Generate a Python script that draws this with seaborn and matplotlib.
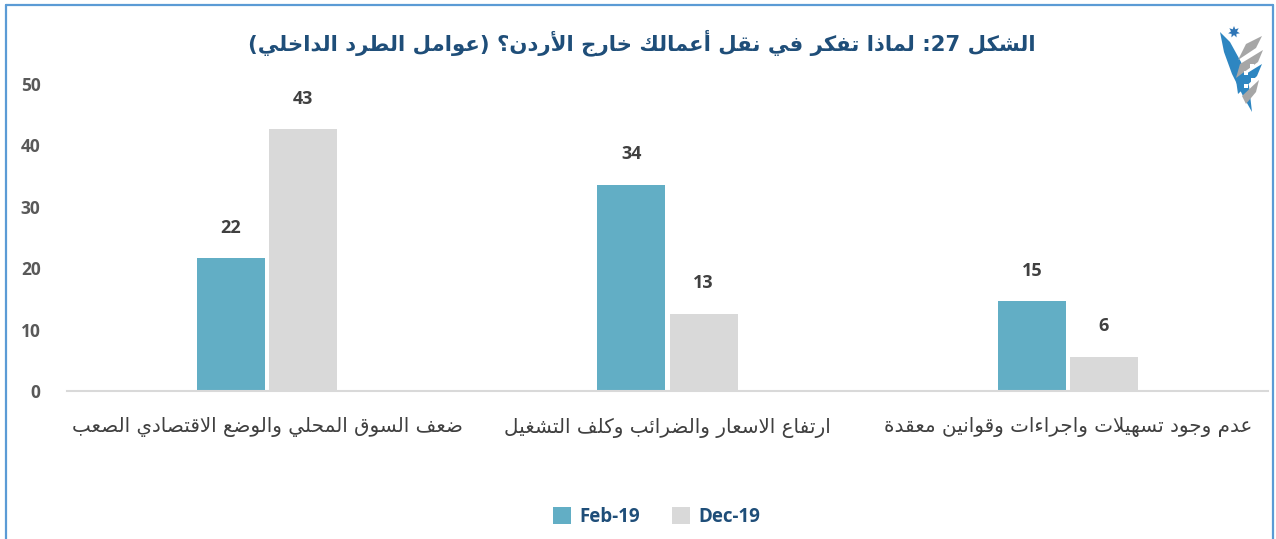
import re
import numpy as np
import pandas as pd
import matplotlib
matplotlib.use("Agg")
import matplotlib.pyplot as plt
import seaborn as sns
from matplotlib.lines import Line2D
from matplotlib.patches import Polygon

# ---------------------------------------------------------------- data
categories = [
    "ضعف السوق المحلي والوضع الاقتصادي الصعب",
    "ارتفاع الاسعار والضرائب وكلف التشغيل",
    "عدم وجود تسهيلات واجراءات وقوانين معقدة",
]
periods = ["Feb-19", "Dec-19"]
feb_values = [21.6, 33.6, 14.6]
dec_values = [42.6, 12.6, 5.6]
y_ticks = [0, 10, 20, 30, 40, 50]
title_text = "الشكل 27: لماذا تفكر في نقل أعمالك خارج الأردن؟ (عوامل الطرد الداخلي)"

FEB_COLOR = "#62AEC5"
DEC_COLOR = "#D9D9D9"
NAVY = "#1F4E79"

# ---------------------------------------------------- Arabic text shaping
# matplotlib has no complex-text layout, so letters are mapped to their
# contextual presentation forms and the line is laid out right-to-left.
DUAL = {'ئ': 0xFE89, 'ب': 0xFE8F, 'ت': 0xFE95, 'ث': 0xFE99, 'ج': 0xFE9D,
        'ح': 0xFEA1, 'خ': 0xFEA5, 'س': 0xFEB1, 'ش': 0xFEB5, 'ص': 0xFEB9,
        'ض': 0xFEBD, 'ط': 0xFEC1, 'ظ': 0xFEC5, 'ع': 0xFEC9, 'غ': 0xFECD,
        'ف': 0xFED1, 'ق': 0xFED5, 'ك': 0xFED9, 'ل': 0xFEDD, 'م': 0xFEE1,
        'ن': 0xFEE5, 'ه': 0xFEE9, 'ي': 0xFEF1}
RIGHT = {'آ': 0xFE81, 'أ': 0xFE83, 'ؤ': 0xFE85, 'إ': 0xFE87, 'ا': 0xFE8D,
         'ة': 0xFE93, 'د': 0xFEA9, 'ذ': 0xFEAB, 'ر': 0xFEAD, 'ز': 0xFEAF,
         'و': 0xFEED, 'ى': 0xFEEF}
LAM_ALEF = {'آ': 0xFEF5, 'أ': 0xFEF7, 'إ': 0xFEF9, 'ا': 0xFEFB}
MIRROR = {'(': ')', ')': '('}


def shape(text):
    units = []
    i = 0
    while i < len(text):
        c = text[i]
        if c == 'ل' and i + 1 < len(text) and text[i + 1] in LAM_ALEF:
            units.append(('LA', text[i + 1], 'R'))
            i += 2
            continue
        if c in DUAL:
            units.append(('C', c, 'D'))
        elif c in RIGHT:
            units.append(('C', c, 'R'))
        else:
            units.append(('C', c, 'U'))
        i += 1
    out = []
    for k, (kind, ch, jt) in enumerate(units):
        prev_j = k > 0 and units[k - 1][2] == 'D' and jt != 'U'
        next_j = (jt == 'D' and k + 1 < len(units)
                  and units[k + 1][2] in ('D', 'R'))
        if kind == 'LA':
            out.append(chr(LAM_ALEF[ch] + (1 if prev_j else 0)))
        elif jt == 'D':
            base = DUAL[ch]
            if prev_j and next_j:
                out.append(chr(base + 3))
            elif next_j:
                out.append(chr(base + 2))
            elif prev_j:
                out.append(chr(base + 1))
            else:
                out.append(chr(base))
        elif jt == 'R':
            out.append(chr(RIGHT[ch] + (1 if prev_j else 0)))
        else:
            out.append(ch)
    return ''.join(out)


def rtl(text):
    runs = re.findall(r'[0-9]+|[^0-9]+', shape(text))
    pieces = []
    for run in reversed(runs):
        if run.isdigit():
            pieces.append(run)
        else:
            pieces.append(''.join(MIRROR.get(c, c) for c in reversed(run)))
    return ''.join(pieces)


# ---------------------------------------------------------------- figure
sns.set_style("white")
plt.rcParams["font.family"] = ["Open Sans", "DejaVu Sans"]

W, H = 1276, 539
fig = plt.figure(figsize=(W / 100, H / 100), dpi=100)
fig.patch.set_facecolor("white")


def fx(px):
    return px / W


def fy(py):
    return 1 - py / H


ax = fig.add_axes([fx(67), fy(391), fx(1268) - fx(67), fy(84) - fy(391)])

df = pd.DataFrame({
    "category": categories * len(periods),
    "period": [p for p in periods for _ in categories],
    "value": feb_values + dec_values,
})

sns.barplot(data=df, x="category", y="value", hue="period",
            order=categories, hue_order=periods,
            palette=[FEB_COLOR, DEC_COLOR], saturation=1,
            width=0.36, gap=0.056, errorbar=None, linewidth=0, ax=ax)

ax.set_xlim(-0.5, 2.5)
ax.set_ylim(0, 50)
ax.set_yticks(y_ticks)
ax.set_yticklabels([str(t) for t in y_ticks], fontsize=12.5, fontweight="bold",
                   color="#595959")
ax.set_xticks(range(len(categories)))
ax.set_xticklabels([rtl(c) for c in categories], family="DejaVu Sans",
                   fontsize=14.3, color="#404040")
ax.tick_params(axis="both", length=0)
ax.tick_params(axis="y", pad=19)
ax.tick_params(axis="x", pad=19)
ax.set_xlabel("")
ax.set_ylabel("")
for side in ("left", "right", "top"):
    ax.spines[side].set_visible(False)
ax.spines["bottom"].set_color("#D9D9D9")
ax.spines["bottom"].set_linewidth(1.5)
ax.grid(False)

# value labels above each bar
for container, vals in zip(ax.containers, [feb_values, dec_values]):
    for bar, v in zip(container, vals):
        ax.annotate(f"{v:.0f}", (bar.get_x() + bar.get_width() / 2, v),
                    xytext=(0, 22), textcoords="offset points",
                    ha="center", va="center", fontsize=13,
                    fontweight="bold", color="#404040")

sns.move_legend(ax, "center", bbox_to_anchor=(0.491, -0.41), ncol=2,
                frameon=False, title=None,
                prop={"weight": "bold", "size": 13.5}, labelcolor=NAVY,
                handlelength=0.96, handleheight=0.96, handletextpad=0.45,
                columnspacing=1.7)

# title
fig.text(fx(642), fy(43), rtl(title_text), ha="center", va="center",
         family="DejaVu Sans", fontsize=15.3, fontweight="bold", color=NAVY)

# frame around the figure (open at the bottom)
frame_c = "#5B9BD5"
fig.add_artist(Line2D([fx(6), fx(6)], [fy(5), 0], color=frame_c, lw=1.6))
fig.add_artist(Line2D([fx(6), fx(1273)], [fy(5), fy(5)], color=frame_c, lw=1.6))
fig.add_artist(Line2D([fx(1273), fx(1273)], [fy(5), 0], color=frame_c, lw=1.6))

# emblem in the top right corner
lg = fig.add_axes([fx(1212), fy(118), fx(1270) - fx(1212), fy(20) - fy(118)])
lg.set_xlim(1212, 1270)
lg.set_ylim(118, 20)
lg.axis("off")
ang = np.linspace(0, 2 * np.pi, 15)[:-1] - np.pi / 2
rad = np.where(np.arange(14) % 2 == 0, 6.0, 3.0)
lg.add_patch(Polygon(np.c_[1234 + rad * np.cos(ang), 32 + rad * np.sin(ang)],
                     closed=True, color="#2E75B6", lw=0))
# left ribbon
lg.add_patch(Polygon([(1220, 32), (1230, 42), (1241, 62), (1249, 86),
                      (1252, 112), (1243, 96), (1232, 74), (1224, 52)],
                     closed=True, color="#2E86C1", lw=0))
# woven bands
bands = [
    [(1246, 44), (1262, 36), (1256, 48), (1238, 60)],
    [(1240, 64), (1263, 50), (1258, 62), (1236, 78)],
    [(1236, 80), (1262, 64), (1257, 76), (1238, 94)],
    [(1242, 96), (1259, 80), (1256, 92), (1246, 104)],
]
band_colors = ["#A6A6A6", "#A6A6A6", "#2E86C1", "#A6A6A6"]
for pts, c in zip(bands, band_colors):
    lg.add_patch(Polygon(pts, closed=True, color=c, lw=0))
for (x, y) in [(1252, 66), (1246, 73), (1253, 80), (1246, 86)]:
    lg.plot(x, y, marker="s", ms=2.6, color="white", mew=0)

fig.savefig("out.png", dpi=100, facecolor="white")
